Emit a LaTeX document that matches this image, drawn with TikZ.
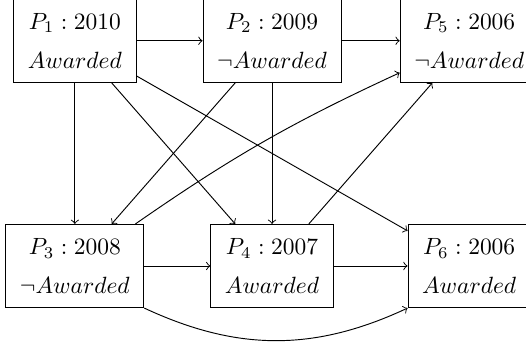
\documentclass[tikz,border=0pt]{standalone}
\usepackage{amsmath}
\usepackage{amssymb}
\usepackage{tikz}

\begin{document}
\begin{tikzpicture}[node distance=2.95cm, paper/.style={draw, align=center, inner sep=6pt}]
            \useasboundingbox (-1.12,0.61) rectangle (6.75,-4.53);
            \node (p1) [paper] at (0,0) {$P_1 : 2010$\\[4.6pt] $Awarded$};
            \node (p2) [paper, right of=p1] {$P_2 : 2009$\\[4.6pt] $\neg Awarded$};
            \node (p5) [paper, right of=p2] {$P_5 : 2006$\\[4.6pt] $\neg Awarded$};
            \node (p3) [paper, node distance=3.37cm, below of=p1] {$P_3 : 2008$\\[4.6pt] $\neg Awarded$};
            \node (p4) [paper, right of=p3] {$P_4 : 2007$\\[4.6pt] $Awarded$};
            \node (p6) [paper, right of=p4] {$P_6 : 2006$\\[4.6pt] $Awarded$};
            \draw[->] (p1) -- (p2);
            \draw[->] (p2) -- (p5);
            \draw[->] (p1) -- (p3);
            \draw[->] (p1) -- (p4);
            \draw[->] (p1) -- (p6);
            \draw[->] (p2) -- (p3);
            \draw[->] (p2) -- (p4);
            \draw[->] (p3) to[bend left=5] (p5);
            \draw[->] (p4) -- (p5);
            \draw[->] (p3) -- (p4);
            \draw[->] (p4) -- (p6);
            \draw[->] (p3.south east) to[bend right=25] (p6.south west);
        \end{tikzpicture}
\end{document}
